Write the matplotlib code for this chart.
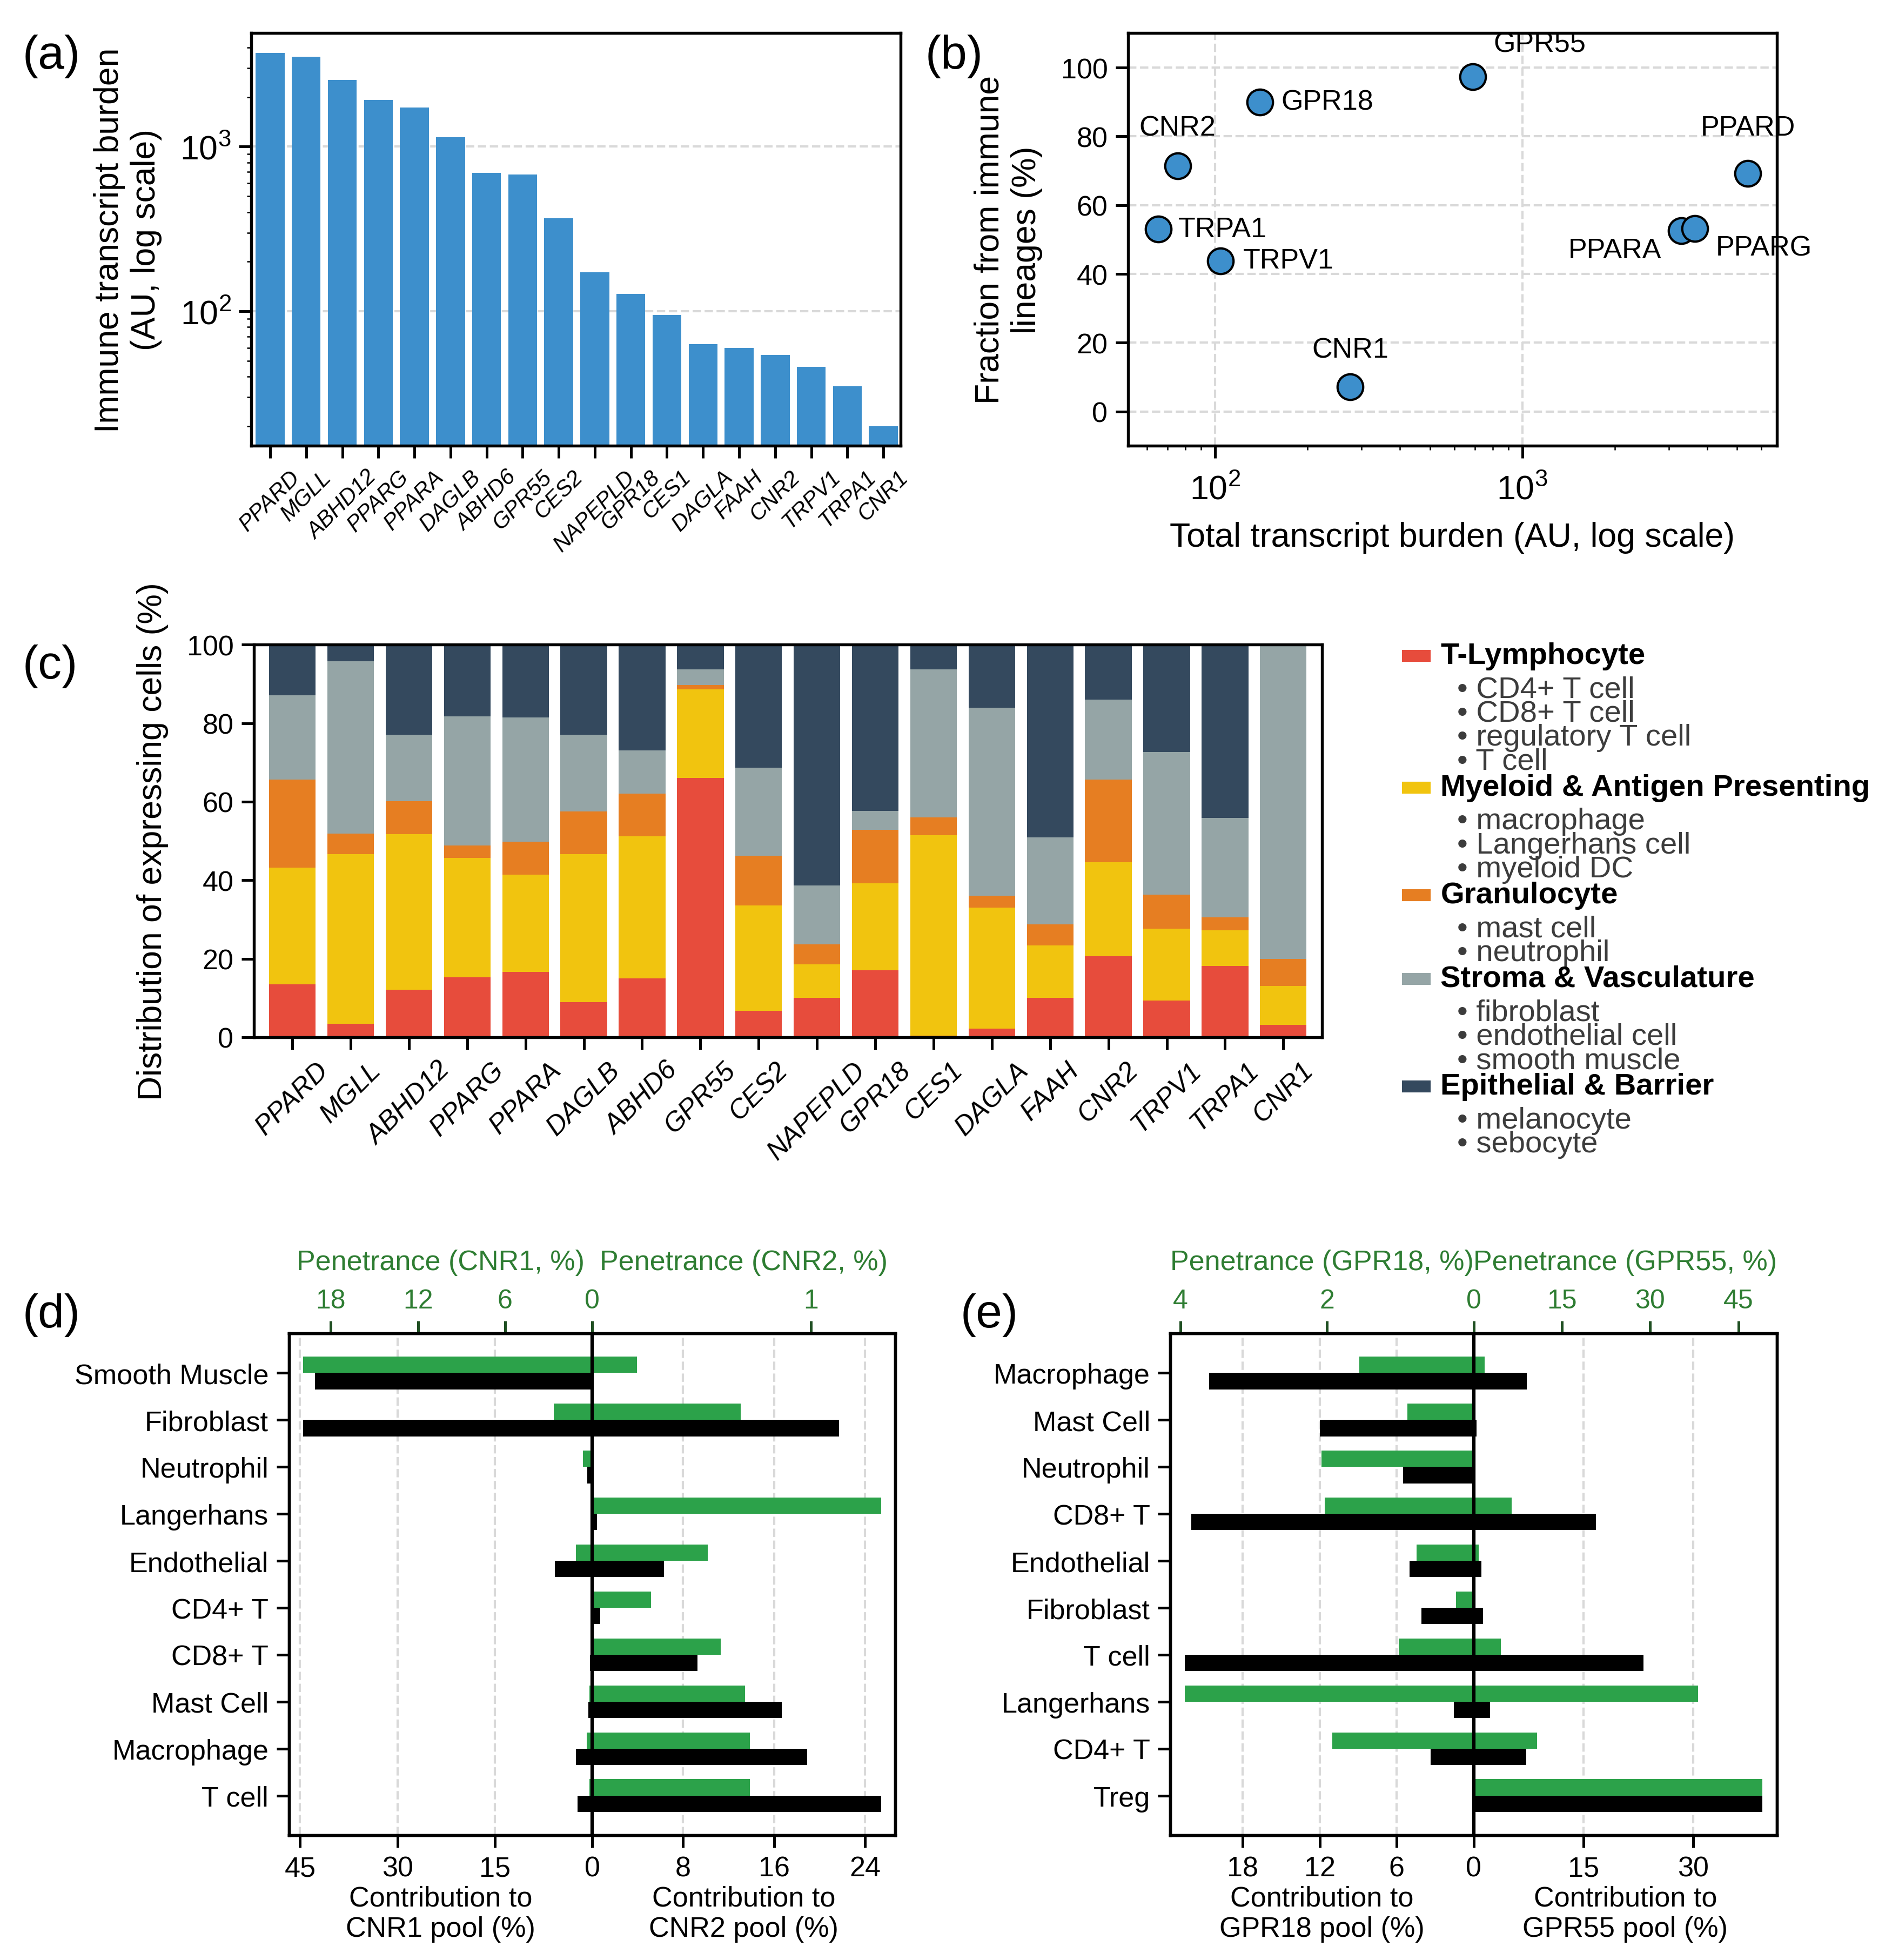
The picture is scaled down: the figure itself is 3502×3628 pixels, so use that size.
import numpy as np
import matplotlib
matplotlib.use('Agg')
import matplotlib.pyplot as plt
from matplotlib.patches import Rectangle

plt.rcParams['font.family'] = ['Liberation Sans', 'DejaVu Sans']
plt.rcParams['mathtext.fontset'] = 'custom'
plt.rcParams['mathtext.rm'] = 'Liberation Sans'
plt.rcParams['mathtext.it'] = 'Liberation Sans:italic'
plt.rcParams['axes.linewidth'] = 1.3
plt.rcParams['xtick.major.width'] = 1.2
plt.rcParams['ytick.major.width'] = 1.2
plt.rcParams['xtick.major.size'] = 5.5
plt.rcParams['ytick.major.size'] = 5.5
plt.rcParams['xtick.labelsize'] = 12.5
plt.rcParams['ytick.labelsize'] = 12.5

# ---- data ----
genes = ['PPARD', 'MGLL', 'ABHD12', 'PPARG', 'PPARA', 'DAGLB', 'ABHD6', 'GPR55', 'CES2',
         'NAPEPLD', 'GPR18', 'CES1', 'DAGLA', 'FAAH', 'CNR2', 'TRPV1', 'TRPA1', 'CNR1']
immune_burden = [3700, 3500, 2540, 1920, 1720, 1140, 690, 676, 366,
                 172, 127, 95, 63, 60, 54, 46, 35, 20]

scatter_genes = ['GPR55', 'GPR18', 'CNR2', 'TRPA1', 'TRPV1', 'CNR1', 'PPARD', 'PPARA', 'PPARG']
total_burden = [689, 140, 75.4, 65.2, 104, 275, 5430, 3300, 3640]
immune_frac = [97.3, 90.0, 71.4, 53.0, 43.8, 7.2, 69.3, 52.5, 53.2]

t_lymph = [13.5, 3.4, 12.1, 15.3, 16.7, 8.9, 15.0, 66.1, 6.8, 10.0, 17.0, 0.4, 2.2, 10.0, 20.6, 9.3, 18.2, 3.2]
myeloid = [29.7, 43.3, 39.6, 30.4, 24.7, 37.8, 36.2, 22.5, 26.8, 8.6, 22.2, 51.0, 30.8, 13.4, 24.0, 18.4, 9.0, 9.8]
granulo = [22.5, 5.2, 8.4, 3.1, 8.4, 10.8, 10.8, 1.1, 12.6, 5.1, 13.7, 4.6, 3.0, 5.3, 21.1, 8.6, 3.4, 7.0]
stroma = [21.4, 43.9, 17.0, 32.9, 31.6, 19.6, 11.1, 4.0, 22.4, 14.9, 4.8, 37.7, 48.0, 22.2, 20.3, 36.3, 25.3, 80.0]
epithel = [12.9, 4.2, 22.9, 18.3, 18.6, 22.9, 26.9, 6.3, 31.4, 61.4, 42.3, 6.3, 16.0, 49.1, 14.0, 27.4, 44.1, 0.0]

lineages = ['T-Lymphocyte', 'Myeloid & Antigen Presenting', 'Granulocyte',
            'Stroma & Vasculature', 'Epithelial & Barrier']
lineage_members = [['CD4+ T cell', 'CD8+ T cell', 'regulatory T cell', 'T cell'],
                   ['macrophage', 'Langerhans cell', 'myeloid DC'],
                   ['mast cell', 'neutrophil'],
                   ['fibroblast', 'endothelial cell', 'smooth muscle'],
                   ['melanocyte', 'sebocyte']]
lineage_colors = ['#E74C3C', '#F1C40F', '#E67E22', '#95A5A6', '#34495E']

d_cells = ['Smooth Muscle', 'Fibroblast', 'Neutrophil', 'Langerhans', 'Endothelial',
           'CD4+ T', 'CD8+ T', 'Mast Cell', 'Macrophage', 'T cell']
cnr1_pen = [19.9, 2.66, 0.64, 0.0, 1.13, 0.0, 0.05, 0.2, 0.36, 0.2]
cnr2_pen = [0.205, 0.68, 0.0, 1.32, 0.528, 0.27, 0.587, 0.70, 0.72, 0.72]
cnr1_con = [42.7, 44.5, 0.72, 0.0, 5.7, 0.0, 0.36, 0.54, 2.5, 2.25]
cnr2_con = [0.0, 21.7, 0.0, 0.41, 6.3, 0.72, 9.25, 16.7, 18.9, 25.4]

e_cells = ['Macrophage', 'Mast Cell', 'Neutrophil', 'CD8+ T', 'Endothelial',
           'Fibroblast', 'T cell', 'Langerhans', 'CD4+ T', 'Treg']
gpr18_pen = [1.56, 0.905, 2.08, 2.03, 0.78, 0.24, 1.02, 3.94, 1.93, 0.0]
gpr55_pen = [1.84, 0.0, 0.0, 6.45, 0.82, 0.0, 4.6, 38.1, 10.8, 49.1]
gpr18_con = [20.6, 12.0, 5.5, 22.0, 4.98, 4.09, 22.5, 1.55, 3.34, 0.0]
gpr55_con = [7.25, 0.4, 0.0, 16.7, 1.07, 1.24, 23.2, 2.23, 7.17, 39.5]

BLUE = '#3d8fcc'
GREEN = '#2ca24a'
GREEN_TXT = '#2e7d32'
GRID = dict(ls='--', color='#d9d9d9', lw=1.0)

W, H = 1513.0, 1568.0  # layout reference grid


def box(l, t, r, b):
    return [l / W, 1 - b / H, (r - l) / W, (b - t) / H]


fig = plt.figure(figsize=(3502 / 300, 3629 / 300), dpi=300)

# ---- (a) ----
ax_a = fig.add_axes(box(201, 27, 720, 357))
x = np.arange(len(genes))
ax_a.bar(x, immune_burden, width=0.8, color=BLUE, zorder=2)
ax_a.set_yscale('log')
ax_a.set_ylim(15.2, 4880)
ax_a.set_xlim(-0.52, 17.47)
ax_a.set_axisbelow(True)
ax_a.yaxis.grid(True, which='major', **GRID)
ax_a.tick_params(axis='y', which='major', labelsize=15)
ax_a.set_xticks(x)
ax_a.set_xticklabels(genes, rotation=45, ha='center', fontsize=10, style='italic')
ax_a.set_ylabel('Immune transcript burden\n(AU, log scale)', fontsize=15, labelpad=8)

# ---- (b) ----
ax_b = fig.add_axes(box(902, 27, 1421, 357))
ax_b.scatter(total_burden, immune_frac, s=130, color=BLUE, edgecolor='black',
             linewidth=1.0, zorder=3)
ax_b.set_xscale('log')
ax_b.set_xlim(52, 6750)
ax_b.set_ylim(-10, 110)
ax_b.set_yticks([0, 20, 40, 60, 80, 100])
ax_b.set_axisbelow(True)
ax_b.grid(True, which='major', **GRID)
ax_b.tick_params(axis='x', which='major', labelsize=15, pad=7)
label_pos = {'GPR55': ((9.4, 8.5), 'left', 'bottom'),
             'GPR18': ((9.4, 0), 'left', 'center'),
             'CNR2': ((0, 11), 'center', 'bottom'),
             'TRPA1': ((9, 0), 'left', 'center'),
             'TRPV1': ((10, 0), 'left', 'center'),
             'CNR1': ((0, 10.5), 'center', 'bottom'),
             'PPARD': ((0, 14.4), 'center', 'bottom'),
             'PPARA': ((-8.9, -2.8), 'right', 'top'),
             'PPARG': ((9.4, -2.8), 'left', 'top')}
for g, xv, yv in zip(scatter_genes, total_burden, immune_frac):
    off, ha, va = label_pos[g]
    ax_b.annotate(g, (xv, yv), xytext=off, textcoords='offset points',
                  ha=ha, va=va, fontsize=12.5)
ax_b.set_xlabel('Total transcript burden (AU, log scale)', fontsize=15, labelpad=7)
ax_b.set_ylabel('Fraction from immune\nlineages (%)', fontsize=15, labelpad=8)

# ---- (c) ----
ax_c = fig.add_axes(box(203, 516, 1057, 830))
bottom = np.zeros(len(genes))
for vals, col in zip([t_lymph, myeloid, granulo, stroma, epithel], lineage_colors):
    ax_c.bar(x, vals, bottom=bottom, width=0.8, color=col)
    bottom += np.array(vals)
ax_c.set_ylim(0, 100)
ax_c.set_xlim(-0.66, 17.66)
ax_c.set_yticks([0, 20, 40, 60, 80, 100])
ax_c.set_xticks(x)
ax_c.set_xticklabels(genes, rotation=45, ha='center', fontsize=12, style='italic')
ax_c.set_ylabel('Distribution of expressing cells (%)', fontsize=15, labelpad=8)

# legend for (c)
yy = 525.0
for name, members, col in zip(lineages, lineage_members, lineage_colors):
    fig.patches.append(Rectangle((1122 / W, 1 - (yy + 4) / H), 21 / W, 8 / H,
                                 transform=fig.transFigure, color=col))
    fig.text(1152 / W, 1 - yy / H, name, fontsize=13.5, fontweight='bold',
             ha='left', va='center')
    yy += 27
    for m in members:
        fig.text(1165 / W, 1 - yy / H, '\u2022 ' + m, fontsize=13.5, color='#3c3c3c',
                 ha='left', va='center')
        yy += 19.2
    yy += 1.5


# ---- (d), (e) ----
def mirror_panel(ax, cells, pen_l, pen_r, con_l, con_r, name_l, name_r,
                 bot_l, bot_r, top_l, top_r):
    y = np.arange(len(cells))[::-1]
    npl, npr = max(pen_l) * 1.05, max(pen_r) * 1.05
    ncl, ncr = max(con_l) * 1.05, max(con_r) * 1.05
    ax.barh(y + 0.175, -np.array(pen_l) / npl, height=0.35, color=GREEN, zorder=2)
    ax.barh(y + 0.175, np.array(pen_r) / npr, height=0.35, color=GREEN, zorder=2)
    ax.barh(y - 0.175, -np.array(con_l) / ncl, height=0.35, color='black', zorder=2)
    ax.barh(y - 0.175, np.array(con_r) / ncr, height=0.35, color='black', zorder=2)
    ax.axvline(0, color='black', lw=1.5, zorder=3)
    ax.set_xlim(-1, 1)
    ax.set_yticks(y)
    ax.set_yticklabels(cells)
    ticks = [-t / ncl for t in bot_l] + [t / ncr for t in bot_r]
    ax.set_xticks(ticks)
    ax.set_xticklabels([str(t) for t in bot_l] + [str(t) for t in bot_r])
    ax.set_axisbelow(True)
    ax.xaxis.grid(True, **GRID)
    top = ax.twiny()
    top.set_xlim(-1, 1)
    top.set_xticks([-t / npl for t in top_l] + [t / npr for t in top_r])
    top.set_xticklabels([str(t) for t in top_l] + [str(t) for t in top_r])
    top.tick_params(axis='x', colors='#1f4f22', labelcolor=GREEN_TXT, labelsize=12)
    ax.text(0.25, 1.142, 'Penetrance (%s, %%)' % name_l, transform=ax.transAxes,
            ha='center', va='center', color=GREEN_TXT, fontsize=12.5)
    ax.text(0.75, 1.142, 'Penetrance (%s, %%)' % name_r, transform=ax.transAxes,
            ha='center', va='center', color=GREEN_TXT, fontsize=12.5)
    ax.text(0.25, -0.1, 'Contribution to\n%s pool (%%)' % name_l, transform=ax.transAxes,
            ha='center', va='top', fontsize=12.5)
    ax.text(0.75, -0.1, 'Contribution to\n%s pool (%%)' % name_r, transform=ax.transAxes,
            ha='center', va='top', fontsize=12.5)


ax_d = fig.add_axes(box(231, 1067, 716, 1468))
mirror_panel(ax_d, d_cells, cnr1_pen, cnr2_pen, cnr1_con, cnr2_con, 'CNR1', 'CNR2',
             [45, 30, 15, 0], [8, 16, 24], [18, 12, 6, 0], [1])

ax_e = fig.add_axes(box(936, 1067, 1421, 1468))
mirror_panel(ax_e, e_cells, gpr18_pen, gpr55_pen, gpr18_con, gpr55_con, 'GPR18', 'GPR55',
             [18, 12, 6, 0], [15, 30], [4, 2, 0], [15, 30, 45])

# panel letters
for lab, px, py in [('(a)', 18, 45), ('(b)', 740, 45), ('(c)', 18, 533),
                    ('(d)', 18, 1052), ('(e)', 768, 1052)]:
    fig.text(px / W, 1 - py / H, lab, fontsize=21, ha='left', va='center')

fig.savefig('out.png', dpi=300)
